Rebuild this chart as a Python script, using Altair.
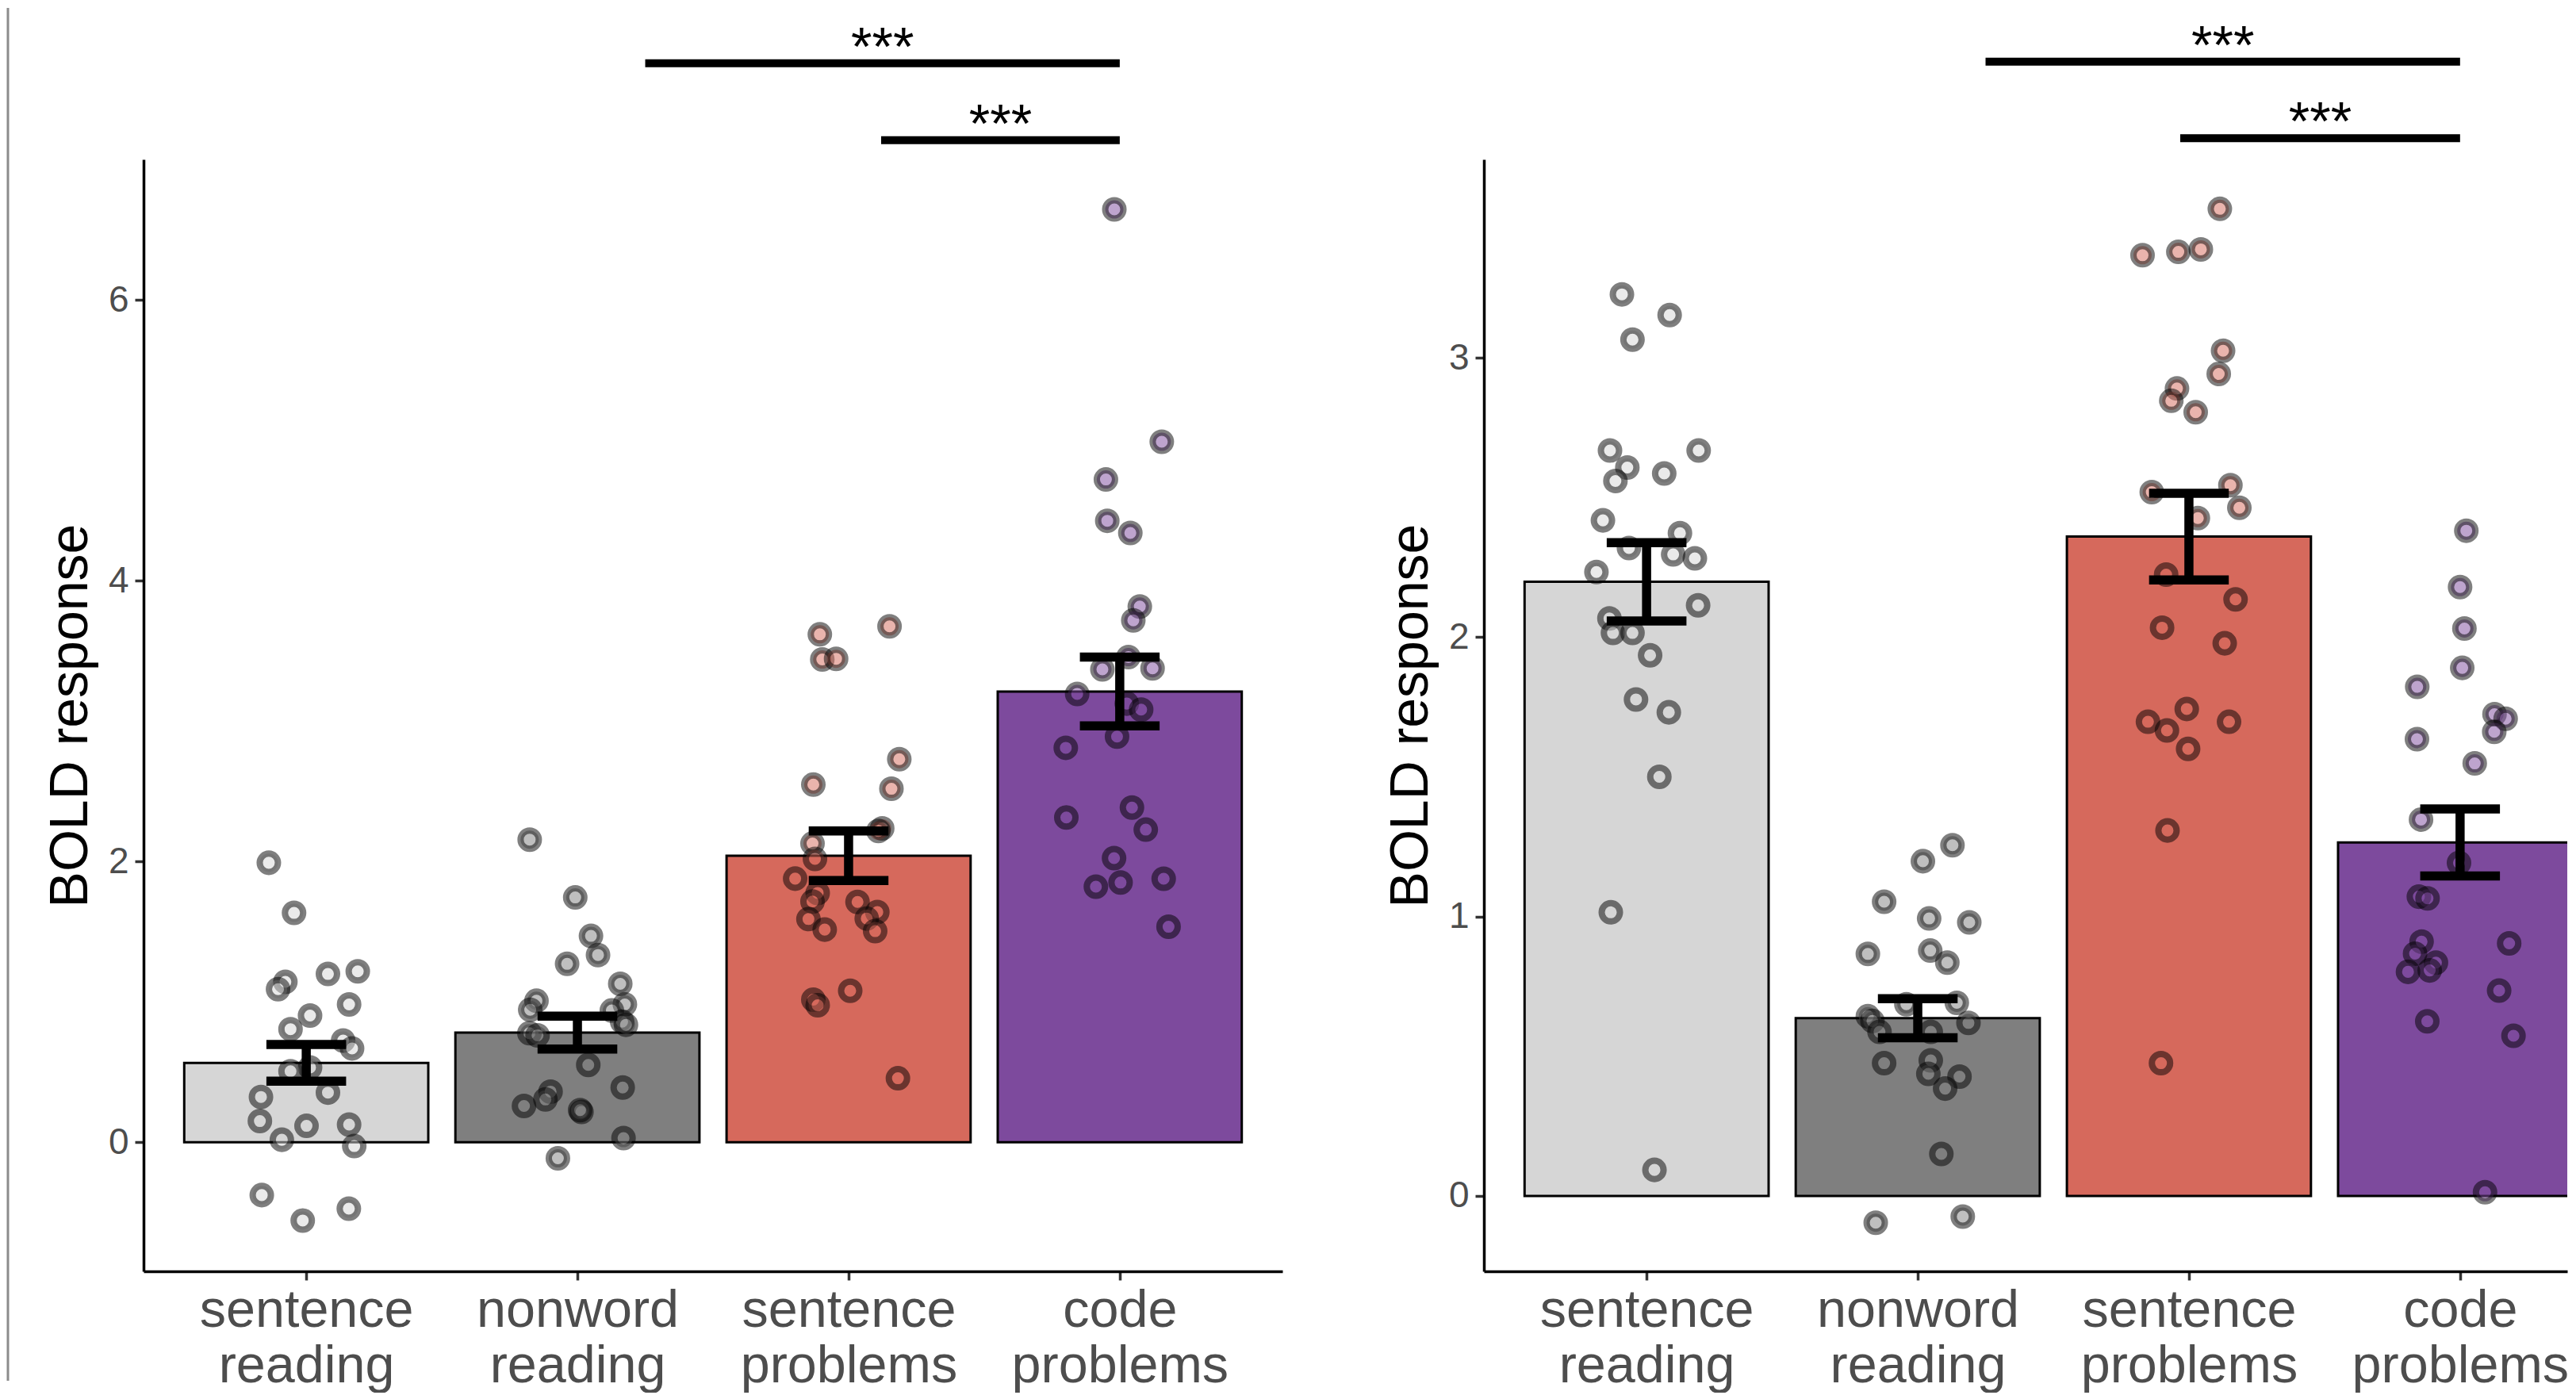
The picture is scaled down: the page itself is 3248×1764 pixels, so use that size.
import altair as alt
import pandas as pd

FONT = "Liberation Sans"

categories = ["sentence reading", "nonword reading", "sentence problems", "code problems"]
label_lines = [["sentence", "reading"], ["nonword", "reading"], ["sentence", "problems"], ["code", "problems"]]
bar_colors = ["#d6d6d6", "#7f7f7f", "#d6695c", "#7d4a9d"]
sig_labels = ["***", "***"]

# ---------------- left panel ----------------
left_means = [0.565, 0.78, 2.04, 3.21]
left_se = [0.13, 0.117, 0.177, 0.245]

left_sr_vals = [1.99, 1.633, 1.142, 1.09, 1.198, 1.217, 0.981, 0.902, 0.805, 0.724, 0.668, 0.532,
                0.505, 0.353, 0.322, 0.15, 0.116, 0.125, 0.017, -0.028, -0.377, -0.474, -0.558]
left_sr_jit = [-0.138, -0.045, -0.077, -0.104, 0.08, 0.19, 0.158, 0.014, -0.058, 0.136, 0.169, 0.014,
               -0.058, 0.08, -0.167, -0.171, 0.001, 0.158, -0.09, 0.177, -0.164, 0.157, -0.013]

left_nr_vals = [2.155, 1.743, 1.469, 1.333, 1.27, 1.128, 1.007, 0.943, 0.981, 0.938, 0.858, 0.836,
                0.776, 0.761, 0.55, 0.389, 0.36, 0.304, 0.258, 0.215, 0.228, 0.029, -0.115]
left_nr_jit = [-0.176, -0.008, 0.05, 0.076, -0.038, 0.158, -0.151, -0.174, 0.175, 0.127, 0.165, 0.179,
               -0.177, -0.147, 0.04, 0.167, -0.099, -0.118, -0.197, 0.015, 0.01, 0.17, -0.072]

left_sp_vals = [3.617, 3.674, 3.438, 3.443, 2.728, 2.547, 2.517, 2.235, 2.217, 2.127, 2.018, 1.877,
                1.775, 1.714, 1.711, 1.639, 1.593, 1.589, 1.514, 1.503, 1.078, 1.015, 0.975, 0.455]
left_sp_jit = [-0.106, 0.151, -0.097, -0.046, 0.187, -0.13, 0.158, 0.124, 0.11, -0.133, -0.124, -0.197,
               -0.114, -0.133, 0.033, 0.106, 0.067, -0.148, -0.088, 0.098, 0.006, -0.13, -0.114, 0.182]

left_cp_vals = [6.644, 4.989, 4.72, 4.426, 4.339, 3.815, 3.717, 3.455, 3.368, 3.375, 3.193, 3.124,
                3.081, 2.889, 2.809, 2.383, 2.313, 2.226, 2.023, 1.849, 1.82, 1.876, 1.534]
left_cp_jit = [-0.02, 0.155, -0.051, -0.046, 0.039, 0.074, 0.05, 0.032, -0.064, 0.121, -0.157, 0.026,
               0.079, -0.01, -0.199, 0.045, -0.197, 0.096, -0.021, 0.003, -0.088, 0.162, 0.18]

left_sig_from = [2.25, 3.12]
left_sig_to = [4.0, 4.0]
left_sig_y = [7.685, 7.137]
left_y_ticks = [0, 2, 4, 6]
left_y_domain = [-0.92, 7.0]

# ---------------- right panel ----------------
right_means = [2.198, 0.636, 2.36, 1.265]
right_se = [0.14, 0.07, 0.155, 0.12]

right_sr_vals = [3.227, 3.153, 3.065, 2.668, 2.668, 2.607, 2.559, 2.586, 2.418, 2.372, 2.319, 2.296,
                 2.282, 2.233, 2.114, 2.067, 2.015, 2.015, 1.935, 1.777, 1.731, 1.5, 1.015, 0.093]
right_sr_jit = [-0.091, 0.085, -0.052, -0.135, 0.192, -0.071, -0.115, 0.065, -0.161, 0.123, -0.065, 0.098,
                0.178, -0.185, 0.19, -0.137, -0.124, -0.052, 0.013, -0.039, 0.082, 0.047, -0.132, 0.029]

right_nr_vals = [1.255, 1.198, 1.053, 0.993, 0.979, 0.866, 0.878, 0.835, 0.686, 0.691, 0.643, 0.626,
                 0.587, 0.619, 0.587, 0.475, 0.485, 0.437, 0.427, 0.384, 0.15, -0.096, -0.074]
right_nr_jit = [0.128, 0.019, -0.124, 0.042, 0.19, -0.184, 0.046, 0.109, -0.042, 0.144, -0.184, -0.167,
                -0.141, 0.187, 0.048, -0.124, 0.048, 0.039, 0.154, 0.101, 0.087, -0.155, 0.166]

right_sp_vals = [3.533, 3.367, 3.379, 3.388, 3.025, 2.942, 2.89, 2.846, 2.805, 2.519, 2.544, 2.463,
                 2.426, 2.224, 2.135, 2.034, 1.978, 1.743, 1.697, 1.697, 1.666, 1.6, 1.308, 0.475]
right_sp_jit = [0.114, -0.171, -0.039, 0.044, 0.126, 0.11, -0.044, -0.065, 0.025, -0.137, 0.153, 0.186,
                0.033, -0.084, 0.172, -0.099, 0.132, -0.008, -0.151, 0.148, -0.081, -0.003, -0.079, -0.103]

right_cp_vals = [2.381, 2.179, 2.031, 1.89, 1.822, 1.724, 1.708, 1.661, 1.635, 1.548, 1.347, 1.192,
                 1.071, 1.065, 0.91, 0.904, 0.867, 0.835, 0.802, 0.807, 0.735, 0.625, 0.573, 0.013]
right_cp_jit = [0.023, 0.0, 0.016, 0.008, -0.158, 0.127, 0.168, 0.126, -0.159, 0.054, -0.144, -0.004,
                -0.152, -0.12, -0.142, 0.181, -0.166, -0.089, -0.192, -0.112, 0.144, -0.121, 0.197, 0.092]

right_sig_from = [2.25, 2.968]
right_sig_to = [4.0, 4.0]
right_sig_y = [4.06, 3.786]
right_y_ticks = [0, 1, 2, 3]
right_y_domain = [-0.27, 3.71]

label_expr = "[" + ",".join("['%s','%s']" % (a, b) for a, b in label_lines) + "][datum.value - 1]"


def make_panel(means, ses, vals, jits, ydom, yvals, sig_from, sig_to, sig_y,
               width, xmax, clip, border_x, border_opacity):
    pts = pd.DataFrame([
        {"cat": categories[i], "idx": i + 1, "val": v, "jit": j}
        for i in range(4) for v, j in zip(vals[i], jits[i])
    ])
    bars = pd.DataFrame({"cat": categories, "idx": [1, 2, 3, 4], "mean": means, "se": ses})
    sig = pd.DataFrame({"x1": sig_from, "x2": sig_to, "y": sig_y, "label": sig_labels})

    xscale = alt.Scale(domain=[0.4, xmax], nice=False, zero=False)
    yscale = alt.Scale(domain=ydom, nice=False, zero=False)
    xaxis = alt.Axis(values=[1, 2, 3, 4], labelExpr=label_expr, title=None, grid=False,
                     labelFont=FONT, labelFontSize=66.5, labelColor="#4d4d4d",
                     labelLineHeight=70, labelPadding=5, labelFlush=False, labelAngle=0,
                     labelOverlap=False, labelLimit=2000,
                     tickSize=11, tickWidth=3.5, tickColor="#333333",
                     domainColor="black", domainWidth=3.5)
    yaxis = alt.Axis(values=yvals, title="BOLD response", grid=False,
                     labelFont=FONT, labelFontSize=46, labelColor="#4d4d4d",
                     labelPadding=8, labelFlush=False,
                     tickSize=11, tickWidth=3.5, tickColor="#333333",
                     domainColor="black", domainWidth=3.5,
                     titleFont=FONT, titleFontSize=68, titleFontWeight="normal",
                     titleColor="black", titlePadding=13)
    color = alt.Color("cat:N", scale=alt.Scale(domain=categories, range=bar_colors), legend=None)

    border = alt.Chart(pd.DataFrame({"k": [0]})).mark_rule(
        color="#8c8c8c", strokeWidth=3, opacity=border_opacity
    ).encode(x=alt.value(border_x), y=alt.value(-191), y2=alt.value(1540))

    bar_layer = alt.Chart(bars).transform_calculate(
        bx1="datum.idx - 0.45", bx2="datum.idx + 0.45", base="0"
    ).mark_rect(stroke="black", strokeWidth=3, clip=clip).encode(
        x=alt.X("bx1:Q", scale=xscale, axis=xaxis),
        x2="bx2:Q",
        y=alt.Y("base:Q", scale=yscale, axis=yaxis),
        y2="mean:Q",
        fill=color,
    )

    pt_layer = alt.Chart(pts).transform_calculate(
        px="datum.idx + datum.jit"
    ).mark_circle(size=530, stroke="black", strokeWidth=8,
                  fillOpacity=0.5, strokeOpacity=0.5).encode(
        x=alt.X("px:Q", scale=xscale, axis=xaxis),
        y=alt.Y("val:Q", scale=yscale, axis=yaxis),
        fill=color,
    )

    eb = alt.Chart(bars).transform_calculate(
        lo="datum.mean - datum.se", hi="datum.mean + datum.se",
        c1="datum.idx - 0.147", c2="datum.idx + 0.147"
    )
    eb_v = eb.mark_rule(color="black", strokeWidth=11.5).encode(
        x=alt.X("idx:Q", scale=xscale, axis=xaxis),
        y=alt.Y("lo:Q", scale=yscale, axis=yaxis), y2="hi:Q")
    eb_hi = eb.mark_rule(color="black", strokeWidth=11.5).encode(
        x=alt.X("c1:Q", scale=xscale, axis=xaxis), x2="c2:Q",
        y=alt.Y("hi:Q", scale=yscale, axis=yaxis))
    eb_lo = eb.mark_rule(color="black", strokeWidth=11.5).encode(
        x=alt.X("c1:Q", scale=xscale, axis=xaxis), x2="c2:Q",
        y=alt.Y("lo:Q", scale=yscale, axis=yaxis))

    sig_rule = alt.Chart(sig).mark_rule(color="black", strokeWidth=10).encode(
        x=alt.X("x1:Q", scale=xscale, axis=xaxis), x2="x2:Q",
        y=alt.Y("y:Q", scale=yscale, axis=yaxis))
    sig_text = alt.Chart(sig).transform_calculate(
        xc="(datum.x1 + datum.x2) / 2"
    ).mark_text(font=FONT, fontSize=68, baseline="alphabetic", align="center",
                dy=2, color="black").encode(
        x=alt.X("xc:Q", scale=xscale, axis=xaxis),
        y=alt.Y("y:Q", scale=yscale, axis=yaxis),
        text="label:N")

    return alt.layer(border, bar_layer, pt_layer, eb_v, eb_hi, eb_lo, sig_rule, sig_text).properties(
        width=width, height=1402)


left = make_panel(left_means, left_se,
                  [left_sr_vals, left_nr_vals, left_sp_vals, left_cp_vals],
                  [left_sr_jit, left_nr_jit, left_sp_jit, left_cp_jit],
                  left_y_domain, left_y_ticks, left_sig_from, left_sig_to, left_sig_y,
                  1436, 4.6, False, -171, 1.0)

right_width = 1366
right = make_panel(right_means, right_se,
                   [right_sr_vals, right_nr_vals, right_sp_vals, right_cp_vals],
                   [right_sr_jit, right_nr_jit, right_sp_jit, right_cp_jit],
                   right_y_domain, right_y_ticks, right_sig_from, right_sig_to, right_sig_y,
                   right_width, 0.4 + right_width / 341.9, True, -100, 0.0)

chart = alt.hconcat(left, right, spacing=128).properties(
    padding=0, background="white"
).configure_view(stroke=None)

chart.save("out.html", embed_options={"renderer": "svg", "actions": False})
